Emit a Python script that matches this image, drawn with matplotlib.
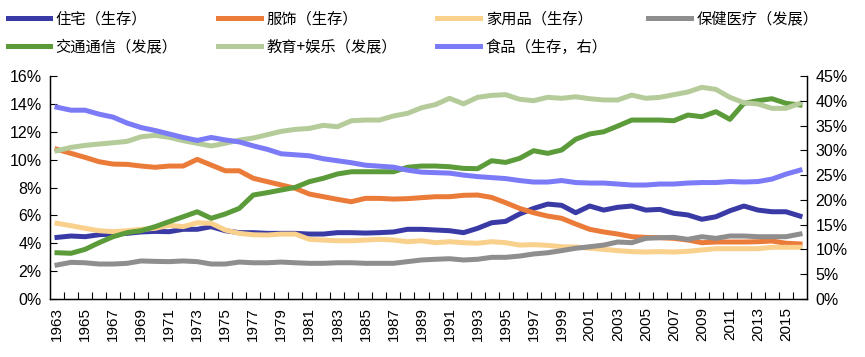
import matplotlib
matplotlib.use("Agg")
import matplotlib.pyplot as plt
from matplotlib.ticker import FuncFormatter, MultipleLocator

plt.rcParams['font.family'] = ['Liberation Sans', 'Noto Sans CJK SC']

years = list(range(1963, 2017))

# 左轴 (%)
housing = [4.42, 4.52, 4.47, 4.61, 4.66, 4.71, 4.81, 4.85, 4.83, 5.0,
           5.0, 5.19, 4.9, 4.76, 4.76, 4.71, 4.71, 4.71, 4.66, 4.66,
           4.76, 4.76, 4.73, 4.76, 4.81, 5.0, 5.0, 4.95, 4.9, 4.76,
           5.07, 5.47, 5.57, 6.1, 6.5, 6.81, 6.72, 6.19, 6.67, 6.38,
           6.58, 6.67, 6.38, 6.43, 6.15, 6.03, 5.72, 5.9, 6.33, 6.67,
           6.38, 6.26, 6.26, 5.95]
clothing = [10.74, 10.45, 10.16, 9.85, 9.68, 9.66, 9.54, 9.45, 9.54, 9.54,
            10.02, 9.61, 9.2, 9.2, 8.66, 8.42, 8.18, 7.94, 7.53, 7.34,
            7.15, 6.98, 7.22, 7.22, 7.17, 7.2, 7.27, 7.34, 7.34, 7.44,
            7.46, 7.29, 6.91, 6.5, 6.19, 5.95, 5.79, 5.38, 5.0, 4.81,
            4.66, 4.47, 4.42, 4.4, 4.35, 4.23, 4.04, 4.09, 4.09, 4.09,
            4.11, 4.16, 4.0, 3.95]
household = [5.43, 5.26, 5.07, 4.9, 4.83, 4.9, 5.0, 5.07, 5.29, 5.19,
             5.47, 5.43, 4.95, 4.71, 4.61, 4.59, 4.66, 4.66, 4.28, 4.23,
             4.18, 4.18, 4.23, 4.28, 4.23, 4.11, 4.18, 4.04, 4.11, 4.04,
             4.0, 4.11, 4.04, 3.87, 3.9, 3.85, 3.75, 3.73, 3.64, 3.56,
             3.47, 3.4, 3.37, 3.4, 3.37, 3.42, 3.52, 3.61, 3.61, 3.61,
             3.61, 3.71, 3.71, 3.71]
health = [2.44, 2.63, 2.6, 2.51, 2.51, 2.56, 2.73, 2.7, 2.68, 2.73,
          2.68, 2.51, 2.51, 2.65, 2.6, 2.6, 2.65, 2.6, 2.56, 2.56,
          2.6, 2.6, 2.56, 2.56, 2.56, 2.68, 2.8, 2.85, 2.89, 2.8,
          2.85, 2.99, 2.99, 3.08, 3.23, 3.32, 3.47, 3.64, 3.75, 3.87,
          4.09, 4.04, 4.35, 4.4, 4.42, 4.28, 4.47, 4.35, 4.52, 4.52,
          4.47, 4.47, 4.47, 4.66]
transport = [3.32, 3.28, 3.56, 4.04, 4.47, 4.76, 4.9, 5.19, 5.55, 5.9,
             6.26, 5.79, 6.1, 6.5, 7.46, 7.63, 7.82, 8.01, 8.42, 8.66,
             8.97, 9.13, 9.13, 9.13, 9.13, 9.45, 9.54, 9.54, 9.49, 9.37,
             9.35, 9.92, 9.8, 10.09, 10.64, 10.45, 10.69, 11.46, 11.84, 12.0,
             12.41, 12.84, 12.84, 12.84, 12.79, 13.2, 13.08, 13.44, 12.89, 14.04,
             14.23, 14.37, 14.04, 13.92]
education = [10.64, 10.88, 11.02, 11.12, 11.21, 11.31, 11.64, 11.74, 11.6, 11.36,
             11.17, 10.98, 11.17, 11.4, 11.55, 11.79, 12.03, 12.17, 12.24, 12.46,
             12.36, 12.79, 12.84, 12.84, 13.13, 13.32, 13.72, 13.95, 14.4, 14.0,
             14.47, 14.61, 14.66, 14.33, 14.23, 14.47, 14.4, 14.51, 14.37, 14.28,
             14.28, 14.63, 14.4, 14.47, 14.66, 14.85, 15.19, 15.04, 14.47, 14.08,
             13.99, 13.68, 13.68, 14.04]
# 右轴 (%)
food = [38.7, 38.1, 38.1, 37.3, 36.7, 35.5, 34.6, 34.0, 33.3, 32.6,
        32.0, 32.6, 32.1, 31.7, 30.9, 30.2, 29.3, 29.1, 28.9, 28.3,
        27.9, 27.5, 27.0, 26.8, 26.6, 26.0, 25.6, 25.5, 25.4, 25.0,
        24.7, 24.5, 24.3, 23.9, 23.6, 23.6, 23.9, 23.5, 23.4, 23.4,
        23.2, 23.0, 23.0, 23.2, 23.2, 23.4, 23.5, 23.5, 23.7, 23.6,
        23.7, 24.2, 25.2, 26.0]

fig = plt.figure(figsize=(8.65, 3.57), dpi=100)
ax = fig.add_axes([50 / 865, 1 - 299 / 357, 757 / 865, 223 / 357])
ax2 = ax.twinx()

lw = 3.6
l1, = ax.plot(years, housing, color="#3A3AA6", lw=lw, label="住宅（生存）")
l2, = ax.plot(years, clothing, color="#EA7B39", lw=lw, label="服饰（生存）")
l3, = ax.plot(years, household, color="#F9D08C", lw=lw, label="家用品（生存）")
l4, = ax.plot(years, health, color="#8E8E8E", lw=lw, label="保健医疗（发展）")
l5, = ax.plot(years, transport, color="#5B9B3A", lw=lw, label="交通通信（发展）")
l6, = ax.plot(years, education, color="#B5CC9A", lw=lw, label="教育+娱乐（发展）")
l7, = ax2.plot(years, food, color="#7B7BF7", lw=lw, label="食品（生存，右）")

ax.set_xlim(1962.5, 2016.5)
ax.set_ylim(0, 16)
ax2.set_ylim(0, 45)

ax.yaxis.set_major_locator(MultipleLocator(2))
ax2.yaxis.set_major_locator(MultipleLocator(5))
pct = FuncFormatter(lambda v, p: f"{v:.0f}%")
ax.yaxis.set_major_formatter(pct)
ax2.yaxis.set_major_formatter(pct)

ax.set_xticks(years[::2])
ax.set_xticklabels([str(y) for y in years[::2]], rotation=90)
ax.set_xticks([y + 0.5 for y in years[:-1]], minor=True)
ax.tick_params(axis="x", which="major", length=0, labelsize=11, pad=6)
ax.tick_params(axis="x", which="minor", direction="in", length=5, width=0.8)
ax.tick_params(axis="y", direction="in", length=5, width=0.8, labelsize=11.5, pad=6)
ax2.tick_params(axis="y", direction="in", length=5, width=0.8, labelsize=11.5, pad=6)

for a in (ax, ax2):
    a.spines["top"].set_visible(False)
    for s in ("left", "right", "bottom"):
        a.spines[s].set_linewidth(0.9)

handles = [l1, l5, l2, l6, l3, l7, l4]
fig.legend(handles=handles, labels=[h.get_label() for h in handles],
           ncol=4, loc="upper left", bbox_to_anchor=(0.0, 1.0 - 3 / 357),
           frameon=False, prop={"family": ["Noto Sans CJK SC"], "size": 11},
           handlelength=2.8, handletextpad=0.35, columnspacing=2.65,
           labelspacing=0.72, borderaxespad=0.1)

fig.savefig("out.png", dpi=100)
